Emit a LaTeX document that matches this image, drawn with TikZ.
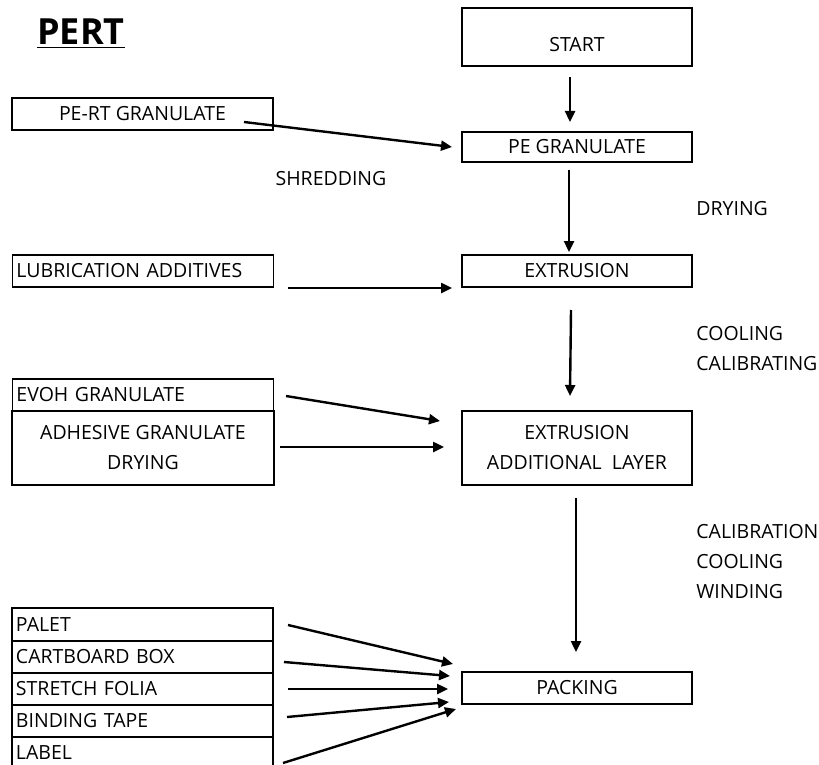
\documentclass[tikz,border=0pt]{standalone}
\usepackage{fontspec}
\setmainfont{Open Sans}
\usetikzlibrary{arrows.meta}

\tikzset{
  box/.style={draw, line width=0.75pt, minimum width=115pt, minimum height=16pt, inner sep=0pt},
  lbox/.style={draw, line width=0.75pt, text width=126.5pt, inner xsep=2pt, inner ysep=0pt,
               minimum height=16pt, align=left},
  arr/.style={-{Triangle[length=5.5pt,width=5pt]}, line width=1.2pt},
  note/.style={anchor=west, inner sep=0pt}
}

\begin{document}
\begin{tikzpicture}[x=0.5pt, y=-0.5pt, font=\fontsize{9.75}{15}\selectfont]
    \useasboundingbox (0,0) rectangle (819,765);

    % Title
    \node (title) at (81,34) {\fontsize{18}{18}\bfseries\underline{PERT}};

    % Main column
    \node[box, minimum height=29pt] (start) at (577,37) {};
    \node (starttxt) at (577,45) {START};
    \node[box, minimum height=15pt] (pe) at (577,147) {PE GRANULATE};
    \node[box] (extr) at (577,271) {EXTRUSION};
    \node[box, minimum height=37pt, align=center] (layer) at (577,448) {EXTRUSION\\ADDITIONAL\ \ LAYER};
    \node[box] (packing) at (577,688) {PACKING};

    % Inputs
    \node[box, minimum width=130.5pt] (pert) at (142.5,114) {PE-RT GRANULATE};
    \node[lbox] (lub) at (143,271) {LUBRICATION ADDITIVES};
    \node[lbox] (evoh) at (143,395) {EVOH GRANULATE};
    \node[box, minimum width=131pt, minimum height=37pt, align=center] (adh) at (143,448) {ADHESIVE GRANULATE\\DRYING};

    % Packing materials
    \node[lbox, minimum height=16.5pt] (palet) at (142.5,624.5) {PALET};
    \node[lbox] (box) at (142.5,657) {CARTBOARD BOX};
    \node[lbox] (folia) at (142.5,689) {STRETCH FOLIA};
    \node[lbox] (tape) at (142.5,721) {BINDING TAPE};
    \node[lbox] (label) at (142.5,753) {LABEL};

    % Process notes
    \node (shred) at (331,179) {SHREDDING};
    \node[note] (dry) at (696,209) {DRYING};
    \node[note] (cool) at (696,334) {COOLING};
    \node[note] (calib) at (696,364) {CALIBRATING};
    \node[note] (calibr) at (696,532) {CALIBRATION};
    \node[note] (cool2) at (696,562) {COOLING};
    \node[note] (wind) at (696,592) {WINDING};

    % Arrow ends
    \coordinate (s1) at (570,77);   \coordinate (e1) at (570,122);
    \coordinate (s2) at (569,170);  \coordinate (e2) at (569,252);
    \coordinate (s3) at (571,310);  \coordinate (e3) at (570,396);
    \coordinate (s4) at (576,498);  \coordinate (e4) at (576,652);
    \coordinate (s5) at (244,122);  \coordinate (e5) at (452,147);
    \coordinate (s6) at (288,288);  \coordinate (e6) at (452,288);
    \coordinate (s7) at (286,396);  \coordinate (e7) at (440,421);
    \coordinate (s8) at (280,447);  \coordinate (e8) at (444,447);
    \coordinate (p1) at (288,625);  \coordinate (q1) at (453,664);
    \coordinate (p2) at (284,662);  \coordinate (q2) at (450,676);
    \coordinate (p3) at (288,689);  \coordinate (q3) at (448,689);
    \coordinate (p4) at (287,717);  \coordinate (q4) at (449,702);
    \coordinate (p5) at (283,763);  \coordinate (q5) at (456,709);

    % Arrows
    \draw[arr] (s1) -- (e1);
    \draw[arr] (s2) -- (e2);
    \draw[arr] (s3) -- (e3);
    \draw[arr] (s4) -- (e4);
    \draw[arr] (s5) -- (e5);
    \draw[arr] (s6) -- (e6);
    \draw[arr] (s7) -- (e7);
    \draw[arr] (s8) -- (e8);
    \draw[arr] (p1) -- (q1);
    \draw[arr] (p2) -- (q2);
    \draw[arr] (p3) -- (q3);
    \draw[arr] (p4) -- (q4);
    \draw[arr] (p5) -- (q5);
\end{tikzpicture}
\end{document}
